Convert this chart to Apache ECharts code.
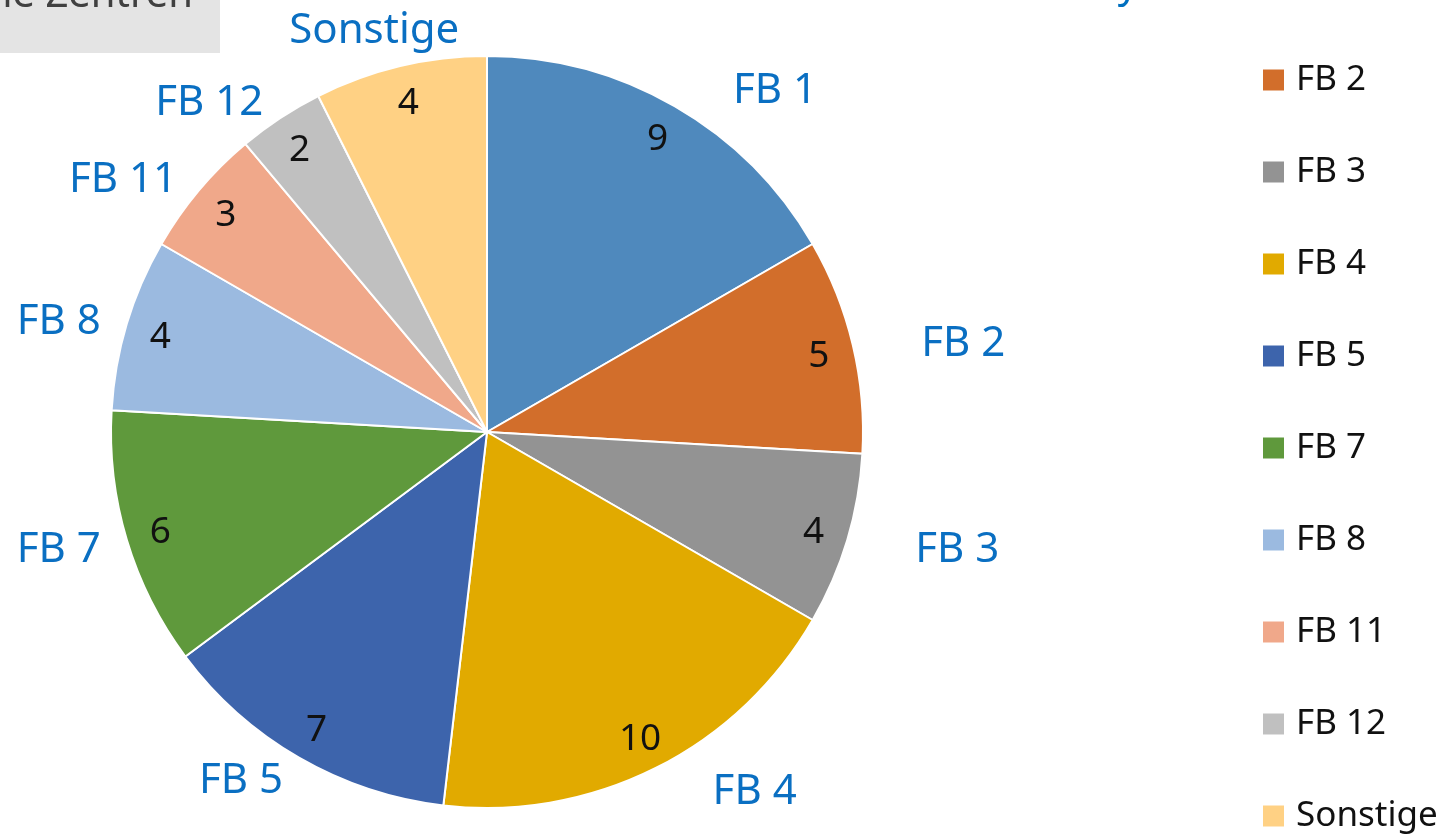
<!DOCTYPE html>
<html>
<head>
<meta charset="utf-8">
<script src="https://cdn.jsdelivr.net/npm/echarts@6/dist/echarts.min.js"></script>
<style>
  html, body { margin: 0; padding: 0; background: #fff; }
  #chart { width: 1441px; height: 835px; }
</style>
</head>
<body>
<div id="chart"></div>
<script>
var dom = document.getElementById("chart");
var myChart = echarts.init(dom);

// Fachbereiche und Anzahl
var names = ['FB 1', 'FB 2', 'FB 3', 'FB 4', 'FB 5', 'FB 7', 'FB 8', 'FB 11', 'FB 12', 'Sonstige'];
var values = [9, 5, 4, 10, 7, 6, 4, 3, 2, 4];
var colors = ['#4f89bd', '#d26e2b', '#939393', '#e1aa00', '#3d64ac', '#5f993c', '#9bbae0', '#f0a88a', '#c0c0c0', '#ffd184'];

var font = '"Noto Sans", "Open Sans", sans-serif';
var total = values.reduce(function (a, b) { return a + b; }, 0);

// Winkel der Segmentmitte (von oben, im Uhrzeigersinn)
function midAngle(idx) {
    var before = 0;
    for (var i = 0; i < idx; i++) before += values[i];
    return (before + values[idx] / 2) / total * 2 * Math.PI;
}

var pieData = names.map(function (n, i) {
    return { name: n, value: values[i], itemStyle: { color: colors[i] } };
});

var option = {
    backgroundColor: '#fff',
    animation: false,
    graphic: [
        { type: 'rect', left: 0, top: 0, shape: { width: 220, height: 53 }, style: { fill: '#e4e4e4' } },
        { type: 'text', x: 193, y: 16, style: { text: 'Wissenschaftliche Zentren', font: '40px ' + font, fill: '#404040', textAlign: 'right', textVerticalAlign: 'bottom' } },
        { type: 'text', x: 1128, y: -34, style: { text: 'y', font: '40px ' + font, fill: '#0070c0', textAlign: 'center', textVerticalAlign: 'top' } }
    ],
    legend: {
        orient: 'vertical',
        left: 1261,
        top: -32,
        height: 900,
        padding: 0,
        data: names,
        icon: 'rect',
        itemWidth: 23,
        itemHeight: 23,
        itemGap: 52,
        textStyle: { fontFamily: font, fontSize: 35, color: '#111', lineHeight: 40, padding: [0, 0, 0, 6] }
    },
    series: [
        {
            type: 'pie',
            center: [487, 432],
            radius: [0, 376],
            startAngle: 90,
            clockwise: true,
            avoidLabelOverlap: false,
            itemStyle: { borderColor: '#fff', borderWidth: 2 },
            label: {
                show: true,
                position: 'outside',
                formatter: '{b}',
                fontFamily: font,
                fontSize: 42,
                color: '#0a6fc2'
            },
            labelLine: { show: false, length: 22, length2: 21 },
            labelLayout: function (p) {
                var a = midAngle(p.dataIndex);
                if (Math.abs(Math.sin(a)) < 0.3) {
                    // Beschriftung oben/unten zentriert darüber
                    return { align: 'center', dx: 5, dy: Math.cos(a) > 0 ? -14 : 14 };
                }
                return { dx: 21, dy: 4 };
            },
            emphasis: { scale: false },
            data: pieData
        },
        {
            type: 'pie',
            center: [487, 432],
            radius: [300, 376],
            startAngle: 90,
            clockwise: true,
            silent: true,
            legendHoverLink: false,
            avoidLabelOverlap: false,
            itemStyle: { color: 'rgba(0,0,0,0)', borderWidth: 0 },
            label: {
                show: true,
                position: 'inside',
                formatter: '{c}',
                fontFamily: font,
                fontSize: 37,
                color: '#111'
            },
            labelLine: { show: false },
            labelLayout: { dy: 3 },
            data: names.map(function (n, i) { return { name: n, value: values[i] }; })
        }
    ]
};

myChart.setOption(option);
</script>
</body>
</html>
